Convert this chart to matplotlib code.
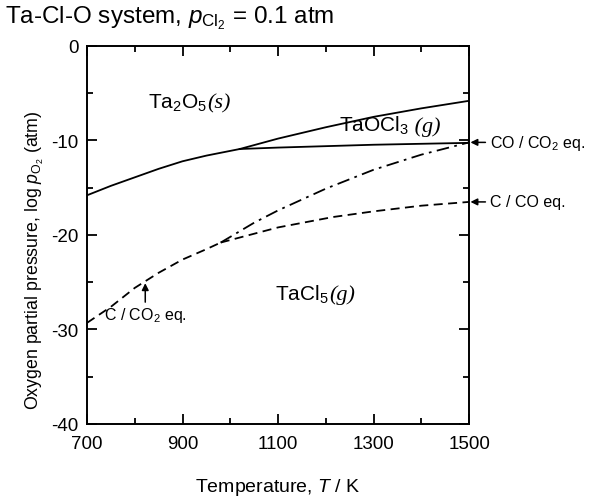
import matplotlib
matplotlib.use("Agg")
import matplotlib.pyplot as plt

plt.rcParams['font.family'] = ['Liberation Sans', 'DejaVu Sans']
plt.rcParams['mathtext.fontset'] = 'custom'
plt.rcParams['mathtext.rm'] = 'Liberation Sans'
plt.rcParams['mathtext.it'] = 'Liberation Sans:italic'
plt.rcParams['axes.unicode_minus'] = False

# Ta2O5 / TaCl5 boundary
t_a = [700, 750, 800, 850, 900, 950, 1000, 1020]
y_a = [-15.8, -14.8, -13.9, -13.0, -12.2, -11.6, -11.1, -10.9]
# Ta2O5 / TaOCl3 boundary
t_b = [1020, 1100, 1200, 1300, 1400, 1500]
y_b = [-10.9, -9.8, -8.6, -7.5, -6.6, -5.8]
# TaOCl3 / TaCl5 boundary
t_c = [1020, 1100, 1200, 1300, 1400, 1500]
y_c = [-10.9, -10.75, -10.6, -10.45, -10.35, -10.25]
# C / CO2 equilibrium
t_d = [700, 750, 800, 850, 900, 950, 980]
y_d = [-29.3, -27.6, -25.6, -24.0, -22.6, -21.5, -20.8]
# C / CO equilibrium
t_e = [980, 1100, 1215, 1300, 1400, 1500]
y_e = [-20.8, -19.2, -18.1, -17.5, -16.9, -16.5]
# CO / CO2 equilibrium
t_f = [980, 1050, 1100, 1200, 1300, 1400, 1500]
y_f = [-20.8, -18.7, -17.4, -15.1, -13.1, -11.5, -10.2]

xticks = [700, 900, 1100, 1300, 1500]
yticks = [0, -10, -20, -30, -40]

fig = plt.figure(figsize=(5.93, 5.02), dpi=100)
ax = fig.add_axes([0.1467, 0.1534, 0.6443, 0.7530])

lw = 1.3
ax.plot(t_a, y_a, color='black', lw=lw)
ax.plot(t_b, y_b, color='black', lw=lw)
ax.plot(t_c, y_c, color='black', lw=lw)
ax.plot(t_d, y_d, color='black', lw=lw, ls=(0, (5, 3)))
ax.plot(t_e, y_e, color='black', lw=lw, ls=(0, (5, 3)))
ax.plot(t_f, y_f, color='black', lw=lw, ls=(0, (7, 3, 1.5, 3)))

ax.set_xlim(700, 1500)
ax.set_ylim(-40, 0)
ax.set_xticks(xticks)
ax.set_xticks(range(800, 1500, 200), minor=True)
ax.set_yticks(yticks)
ax.set_yticks([-5, -15, -25, -35], minor=True)
ax.tick_params(which='both', direction='in', top=True, right=True, labelsize=13.5, width=1.3)
ax.tick_params(which='major', length=7)
ax.tick_params(which='minor', length=4)
ax.tick_params(axis='x', pad=8)
ax.tick_params(axis='y', pad=6)
for s in ax.spines.values():
    s.set_linewidth(1.4)

ax.set_xlabel('Temperature, $\\mathit{T}$ / K', fontsize=14, va='center')
ax.xaxis.set_label_coords(0.5, -0.165)
ax.set_ylabel('Oxygen partial pressure, log $\\mathit{p}_{\\mathrm{O_2}}$ (atm)', fontsize=12.8, va='center')
ax.yaxis.set_label_coords(-0.137, 0.437)

fig.text(0.008, 0.964, 'Ta-Cl-O system, $\\mathit{p}_{\\mathrm{Cl_2}}$ = 0.1 atm', fontsize=17.5, va='center')

serif_it = dict(family='Liberation Serif', style='italic')

def phase(x, y, main, suffix, fs=15, gap=''):
    t = ax.text(x, y, main, fontsize=fs, va='baseline', ha='left')
    fig.canvas.draw()
    bb = t.get_window_extent()
    inv = ax.transData.inverted()
    x2 = inv.transform((bb.x1, bb.y0))[0]
    ax.text(x2, y, gap + '(' + suffix + ')', fontsize=fs + 1, va='baseline', ha='left',
            fontdict=serif_it)

phase(828, -6.5, 'Ta$_2$O$_5$', 's')
phase(1228, -9.0, 'TaOCl$_3$', 'g', gap=' ')
phase(1094, -26.8, 'TaCl$_5$', 'g')

ax.annotate('C / CO$_2$ eq.', xy=(822, -25.1), xytext=(822, -27.4),
            ha='center', va='top', fontsize=11.5,
            arrowprops=dict(arrowstyle='-|>', color='black', lw=1.1, mutation_scale=10,
                            shrinkA=0, shrinkB=0))
ax.annotate('CO / CO$_2$ eq.', xy=(1500, -10.2), xytext=(1543, -10.2),
            ha='left', va='center', fontsize=11.5, annotation_clip=False,
            arrowprops=dict(arrowstyle='-|>', color='black', lw=1.1, mutation_scale=10,
                            shrinkA=1, shrinkB=1))
ax.annotate('C / CO eq.', xy=(1500, -16.5), xytext=(1543, -16.5),
            ha='left', va='center', fontsize=11.5, annotation_clip=False,
            arrowprops=dict(arrowstyle='-|>', color='black', lw=1.1, mutation_scale=10,
                            shrinkA=1, shrinkB=1))

fig.savefig('out.png', dpi=100)
